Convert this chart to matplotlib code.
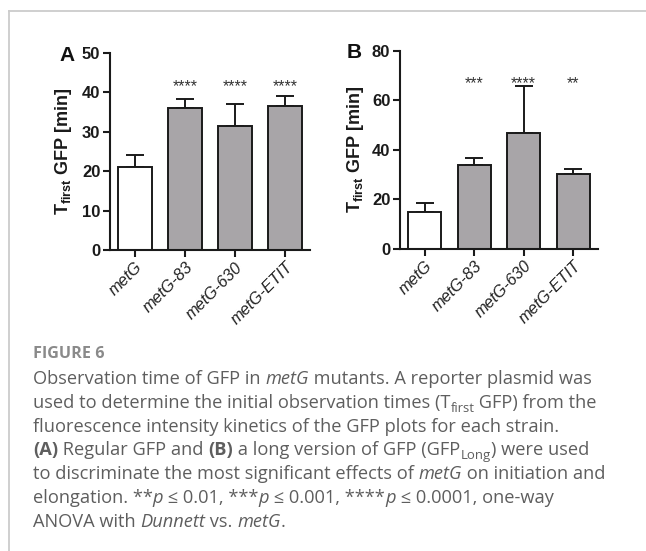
import matplotlib
matplotlib.use("Agg")
import matplotlib.pyplot as plt
import matplotlib.transforms as mtransforms
import numpy as np

# ---------------- data ----------------
strains = ["metG", "metG-83", "metG-630", "metG-ETIT"]
a_means = [21.1, 35.9, 31.5, 36.5]
a_err = [3.1, 2.3, 5.6, 2.5]
a_stars = ["", "****", "****", "****"]
b_means = [14.9, 33.7, 46.7, 30.2]
b_err = [3.7, 2.8, 18.9, 1.9]
b_stars = ["", "***", "****", "**"]
a_ticks = [0, 10, 20, 30, 40, 50]
b_ticks = [0, 20, 40, 60, 80]

W, H = 646, 551
plt.rcParams['mathtext.fontset'] = 'custom'
plt.rcParams['mathtext.rm'] = 'Liberation Sans:bold'
plt.rcParams['mathtext.bf'] = 'Liberation Sans:bold'
plt.rcParams['mathtext.it'] = 'Liberation Sans:bold'

fig = plt.figure(figsize=(W / 100, H / 100), dpi=100)

def fx(x):
    return x / W

def fy(y):
    return 1 - y / H

# border lines
fig.add_artist(plt.Line2D([fx(9), fx(9)], [fy(11), 0], color='#cccccc', lw=1.3))
fig.add_artist(plt.Line2D([fx(9), 1], [fy(11), fy(11)], color='#cccccc', lw=1.3))

colors = ['white', '#a8a5a8', '#a8a5a8', '#a8a5a8']

def panel(rect, means, errs, stars, ticks, ymax, letter, letter_xy, ylab_x, star_y):
    ax = fig.add_axes(rect)
    x = np.arange(len(strains))
    lower = np.zeros(len(means))
    ax.errorbar(x, means, yerr=[lower, errs], fmt='none', ecolor='#1a1a1a',
                elinewidth=1.4, capsize=6.8, capthick=1.4, zorder=1)
    ax.bar(x, means, width=0.67, color=colors, edgecolor='#1a1a1a', linewidth=1.4, zorder=2)
    ax.set_xlim(-0.5, 3.5)
    ax.set_ylim(0, ymax)
    ax.set_yticks(ticks)
    ax.set_xticks(x)
    ax.set_xticklabels(strains, rotation=45, ha='right', rotation_mode='anchor',
                       fontsize=11.8, fontstyle='italic', family='Liberation Sans', color='#222222')
    for lab in ax.get_yticklabels():
        lab.set_fontfamily('Liberation Sans')
        lab.set_fontweight('bold')
        lab.set_fontsize(12)
        lab.set_color('#1a1a1a')
    for s in ['top', 'right']:
        ax.spines[s].set_visible(False)
    for s in ['left', 'bottom']:
        ax.spines[s].set_linewidth(1.5)
        ax.spines[s].set_color('#1a1a1a')
    ax.tick_params(axis='both', direction='out', length=5, width=1.5, color='#1a1a1a', pad=2)
    ax.patch.set_alpha(0)
    trans = mtransforms.blended_transform_factory(ax.transData, ax.transAxes)
    for xi, s in zip(x, stars):
        if s:
            ax.text(xi, star_y, s, transform=trans, ha='center', va='baseline',
                    fontsize=11.5, family='Liberation Sans', color='#333333')
    fig.text(fx(letter_xy[0]), fy(letter_xy[1]), letter, ha='center', va='center',
             fontsize=15, fontweight='bold', family='Liberation Sans', color='#111111')
    fig.text(fx(ylab_x), rect[1] + rect[3] / 2, r'T$_{\mathbf{first}}$ GFP [min]', rotation=90,
             ha='center', va='center', fontsize=13, fontweight='bold',
             family='Liberation Sans', color='#1a1a1a')
    return ax

panel([fx(110), fy(250), fx(200), 197.3 / H], a_means, a_err, a_stars, a_ticks, 50,
      'A', (67.5, 55.5), 63, 0.805)
panel([fx(400), fy(248.7), fx(198), 198 / H], b_means, b_err, b_stars, b_ticks, 80,
      'B', (354, 53), 356, 0.812)

# ---------------- caption ----------------
cap_family = ['Open Sans', 'DejaVu Sans']
cap_color = '#5e5e5e'
cap_size = 13.15
fig.text(fx(33), fy(358), 'FIGURE 6', fontsize=11.6, fontweight='bold', family=cap_family,
         color='#8a8a8a', va='baseline', ha='left')

lines = [
    [("Observation time of GFP in ", 'n'), ("metG", 'i'), (" mutants. A reporter plasmid was", 'n')],
    [("used to determine the initial observation times (T", 'n'), ("first", 'sub'), (" GFP) from the", 'n')],
    [("fluorescence intensity kinetics of the GFP plots for each strain.", 'n')],
    [("(A)", 'b'), (" Regular GFP and ", 'n'), ("(B)", 'b'), (" a long version of GFP (GFP", 'n'),
     ("Long", 'sub'), (") were used", 'n')],
    [("to discriminate the most significant effects of ", 'n'), ("metG", 'i'), (" on initiation and", 'n')],
    [("elongation. **", 'n'), ("p", 'i'), (" \u2264 0.01, ***", 'n'), ("p", 'i'), (" \u2264 0.001, ****", 'n'),
     ("p", 'i'), (" \u2264 0.0001, one-way", 'n')],
    [("ANOVA with ", 'n'), ("Dunnett", 'i'), (" vs. ", 'n'), ("metG", 'i'), (".", 'n')],
]

renderer = fig.canvas.get_renderer()

def seg_props(style):
    p = dict(family=cap_family, color=cap_color, fontsize=cap_size, fontweight='normal', fontstyle='normal')
    if style == 'i':
        p['fontstyle'] = 'italic'
    elif style == 'b':
        p['fontweight'] = 'bold'
    elif style == 'sub':
        p['fontsize'] = cap_size * 0.72
    return p

def width_px(s, props):
    t1 = fig.text(0, 0, s + '|', **props)
    t2 = fig.text(0, 0, '|', **props)
    w = t1.get_window_extent(renderer).width - t2.get_window_extent(renderer).width
    t1.remove()
    t2.remove()
    return w

base0 = 384.0
step = 23.8
for i, segs in enumerate(lines):
    x = 33.0
    base = base0 + i * step
    for j, (s, st) in enumerate(segs):
        props = seg_props(st)
        yb = base + (4.0 if st == 'sub' else 0.0)
        fig.text(fx(x), fy(yb), s, va='baseline', ha='left', **props)
        x += width_px(s, props)

fig.savefig('out.png', dpi=100)
